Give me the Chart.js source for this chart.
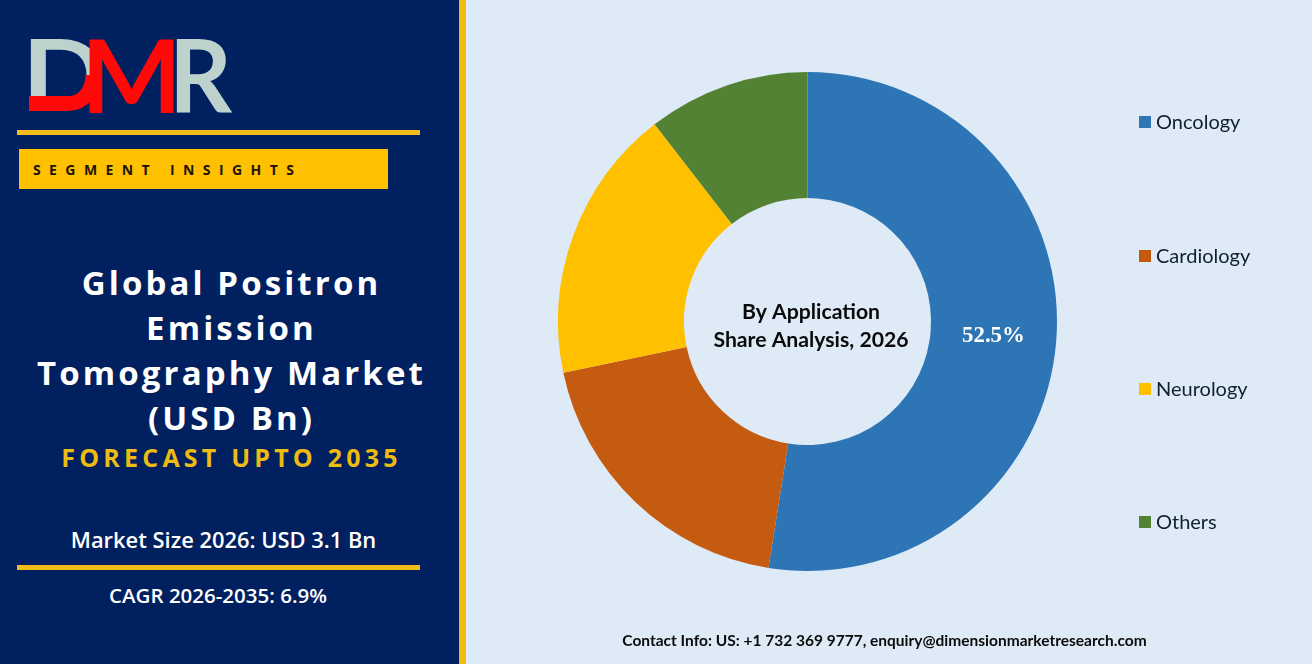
<!DOCTYPE html>
<html><head><meta charset="utf-8">
<script src="https://cdn.jsdelivr.net/npm/chart.js@4"></script>
<style>
html,body{margin:0;padding:0;width:1312px;height:664px;overflow:hidden;background:#DEEAF6}
#panel{position:absolute;left:0;top:0;width:459px;height:664px;background:#012060}
#bar{position:absolute;left:459px;top:0;width:7px;height:664px;background:#EDBB12}
.rule{position:absolute;left:17px;width:403px;height:5px;background:#F2BC1B}
#tag{position:absolute;left:19px;top:149px;width:369px;height:40px;background:#FFC000}
#tag span{position:absolute;left:14px;top:12px;font:bold 14px/17px "Open Sans";letter-spacing:8.4px;color:#1c1404;white-space:nowrap}
.t{position:absolute;white-space:nowrap;transform:translateX(-50%)}
.h{font:bold 33px/40px "Open Sans";letter-spacing:3.1px;color:#fff}
#f{font:bold 25px/30px "Open Sans";letter-spacing:4.2px;color:#EDBB12}
.s{font:600 21.900px/26px "Open Sans";color:#fff}
#chartWrap{position:absolute;left:467px;top:0;width:681px;height:643px}
#legend{position:absolute;left:1139px;top:0;list-style:none;margin:0;padding:0;font:20px/26px Lato;color:#10202e}
#legend li{position:absolute;left:0;white-space:nowrap;padding-left:17px}
#legend i{position:absolute;left:0;top:8px;width:12px;height:12px}
#contact{position:absolute;left:884.500px;top:631px;transform:translateX(-50%);font:bold 15.500px/19px Lato;color:#0b0b0b;white-space:nowrap}
#logo{position:absolute;left:0;top:0}
</style></head>
<body>
<div id="panel"></div><div id="bar"></div>
<svg id="logo" width="260" height="125" viewBox="0 0 260 125">
  <text x="22" y="111" font-family="Lato" font-weight="700" font-size="99" fill="#BDD2CC" textLength="84" lengthAdjust="spacingAndGlyphs">D</text>
  <path d="M29 103.500H68C84 103.500 93 90 93 75" fill="none" stroke="#FF0808" stroke-width="15"/>
  <text x="81" y="113" font-family="Lato" font-weight="700" font-size="101" fill="#FF0808" textLength="101" lengthAdjust="spacingAndGlyphs">M</text>
  <text x="169" y="113" font-family="Lato" font-weight="700" font-size="101" fill="#BDD2CC" textLength="63" lengthAdjust="spacingAndGlyphs">R</text>
</svg>
<div class="rule" style="top:130px"></div>
<div id="tag"><span>SEGMENT INSIGHTS</span></div>
<div class="t h" style="left:231.500px;top:263px">Global Positron</div>
<div class="t h" style="left:231.500px;top:308px">Emission</div>
<div class="t h" style="left:231.500px;top:353px">Tomography Market</div>
<div class="t h" style="left:231.500px;top:398px">(USD Bn)</div>
<div class="t" id="f" style="left:231.500px;top:442px">FORECAST UPTO 2035</div>
<div class="t s" style="left:223.500px;top:527px">Market Size 2026: USD 3.1 Bn</div>
<div class="rule" style="top:565px"></div>
<div class="t s" style="left:218px;top:582px;font-size:20.500px">CAGR 2026-2035: 6.9%</div>
<div id="chartWrap"><canvas id="c" width="681" height="643"></canvas></div>
<ul id="legend"></ul>
<div id="contact">Contact Info: US: +1 732 369 9777, enquiry@dimensionmarketresearch.com</div>
<script>
const categories = ["Oncology", "Cardiology", "Neurology", "Others"];
const shares = [52.5, 19.2, 17.8, 10.5];
const colors = ["#2E75B6", "#C55A11", "#FFC000", "#548235"];
const shownLabels = ["52.5%", "", "", ""];
const centerLines = ["By Application", "Share Analysis, 2026"];
const legendTops = [108, 242, 375, 508];

const overlay = {
  id: "overlay",
  afterDatasetsDraw(chart) {
    const ctx = chart.ctx, arcs = chart.getDatasetMeta(0).data;
    ctx.save();
    ctx.textAlign = "center";
    ctx.textBaseline = "middle";
    ctx.fillStyle = "#fff";
    ctx.font = 'bold 22.8px "Liberation Serif"';
    shownLabels.forEach((s, i) => {
      if (!s) return;
      const p = arcs[i].getCenterPoint();
      ctx.fillText(s, p.x, p.y);
    });
    ctx.fillStyle = "#0a0a0a";
    ctx.font = 'bold 21.2px Lato';
    const a = arcs[0];
    ctx.fillText(centerLines[0], a.x + 3.5, a.y - 9);
    ctx.fillText(centerLines[1], a.x + 3.5, a.y + 19);
    ctx.restore();
  }
};
const htmlLegend = {
  id: "htmlLegend",
  afterUpdate(chart) {
    const ul = document.getElementById("legend");
    ul.innerHTML = "";
    chart.options.plugins.legend.labels.generateLabels(chart).forEach((it, i) => {
      const li = document.createElement("li");
      li.style.top = legendTops[i] + "px";
      const box = document.createElement("i");
      box.style.background = it.fillStyle;
      li.appendChild(box);
      li.appendChild(document.createTextNode(it.text));
      ul.appendChild(li);
    });
  }
};
new Chart(document.getElementById("c"), {
  type: "doughnut",
  data: { labels: categories, datasets: [{ data: shares, backgroundColor: colors, borderWidth: 0 }] },
  options: {
    responsive: false,
    animation: false,
    cutout: "49.5%",
    layout: { padding: 72 },
    plugins: { legend: { display: false }, tooltip: { enabled: false } }
  },
  plugins: [overlay, htmlLegend]
});
</script>
</body></html>
